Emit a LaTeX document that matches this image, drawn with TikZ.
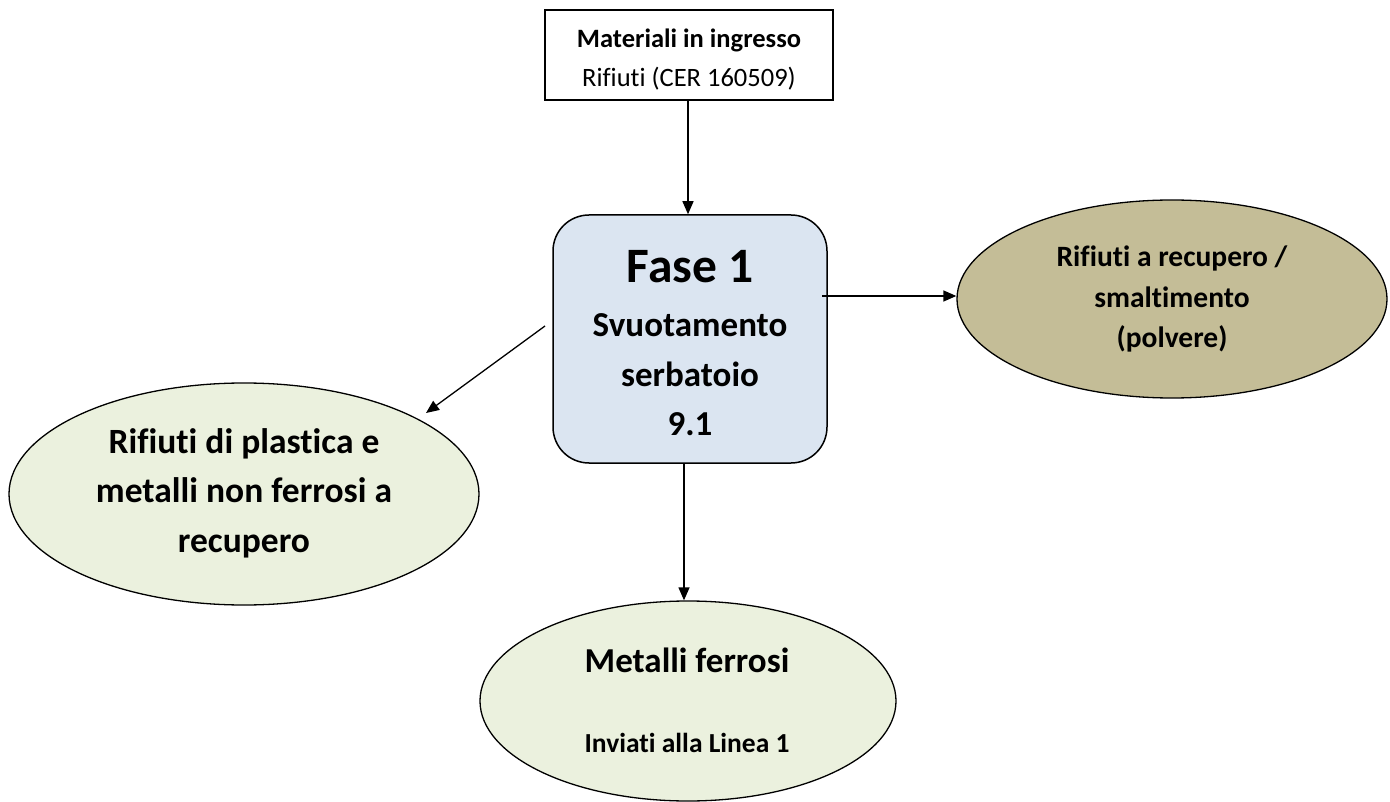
\documentclass[tikz,border=0pt]{standalone}
\usepackage{fontspec}
\setmainfont{Carlito}[Ligatures={NoCommon}]
\usetikzlibrary{arrows.meta,shapes.geometric}
\definecolor{boxblue}{HTML}{DBE5F1}
\definecolor{khaki}{HTML}{C4BD97}
\definecolor{palegreen}{HTML}{EBF1DE}
\newcommand{\fsz}[1]{\fontsize{#1}{#1}\selectfont}
\tikzset{
  conn/.style={line width=1.3pt,-{Triangle[length=13pt,width=11pt]}},
  ell/.style={ellipse,draw,line width=1.3pt,inner sep=0pt},
  lbl/.style={anchor=base,inner sep=0pt,font=\bfseries},
}
\begin{document}
\begin{tikzpicture}[x=1pt,y=-1pt]
\useasboundingbox (0,0) rectangle (1390,802);
% shapes
\node[draw,line width=1.5pt,minimum width=288pt,minimum height=90pt,inner sep=0pt] (inp) at (689,55) {};
\node[draw,line width=1.5pt,fill=boxblue,rounded corners=36pt,minimum width=274pt,minimum height=248pt,inner sep=0pt] (fase) at (690,339) {};
\node[ell,fill=khaki,minimum width=430pt,minimum height=198pt] (rec) at (1172,299) {};
\node[ell,fill=palegreen,minimum width=470pt,minimum height=222pt] (plast) at (244,494) {};
\node[ell,fill=palegreen,minimum width=416pt,minimum height=200pt] (ferr) at (688,701) {};
% texts
\node[lbl] (t1) at (689,48) {\fsz{26.5}Materiali in ingresso};
\node[lbl,font=\mdseries] (t2) at (689,87) {\fsz{26.5}Rifiuti (CER 160509)};
\node[lbl] (f1) at (690,283) {\fsz{49.5}Fase 1};
\node[lbl] (f2) at (690,337) {\fsz{35}Svuotamento};
\node[lbl] (f3) at (690,387) {\fsz{35}serbatoio};
\node[lbl] (f4) at (690,435) {\fsz{35}9.1};
\node[lbl] (r1) at (1172,267) {\fsz{29.5}Rifiuti a recupero /};
\node[lbl] (r2) at (1172,308) {\fsz{29.5}smaltimento};
\node[lbl] (r3) at (1172,348) {\fsz{29.5}(polvere)};
\node[lbl] (p1) at (244,453) {\fsz{35.5}Rifiuti di plastica e};
\node[lbl] (p2) at (244,502) {\fsz{35.5}metalli non ferrosi a};
\node[lbl] (p3) at (244,552) {\fsz{35.5}recupero};
\node[lbl] (m1) at (687,672) {\fsz{35}Metalli ferrosi};
\node[lbl] (m2) at (687,752) {\fsz{27.5}Inviati alla Linea 1};
% connectors
\coordinate (rs) at (822,296);
\coordinate (ls) at (545,326);
\coordinate (le) at (426,413);
\draw[conn] (inp.south -| 688,0) -- (688,0 |- fase.north);
\draw[conn] (684,0 |- fase.south) -- (684,0 |- ferr.north);
\draw[conn] (rs) -- (rs -| rec.west);
\draw[conn] (ls) -- (le);
\end{tikzpicture}
\end{document}
